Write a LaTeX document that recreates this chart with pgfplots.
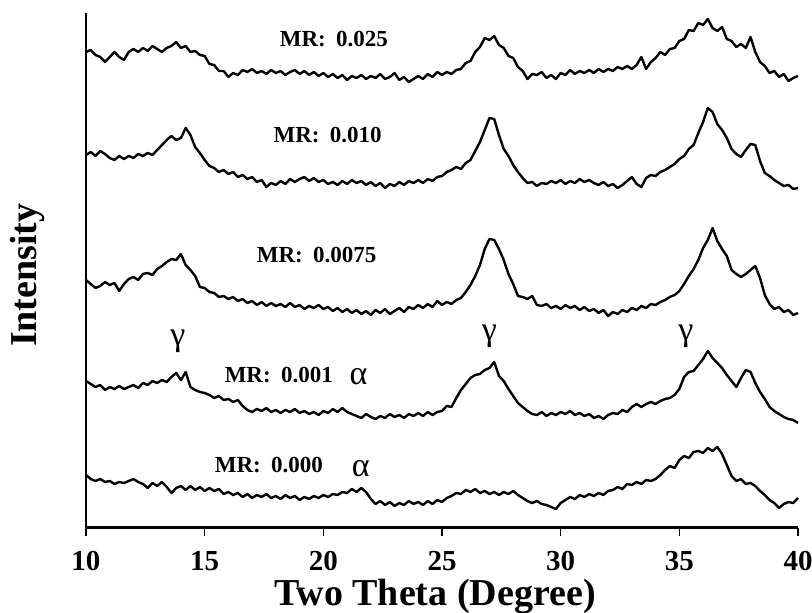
\documentclass[border=0pt]{standalone}
\usepackage{fontspec}
\setmainfont{Liberation Serif}
\usepackage{pgfplots}
\usepackage{pgfplotstable}
\pgfplotsset{compat=1.18}

% XRD patterns, stacked; columns: 2theta, MR 0.025, 0.010, 0.0075, 0.001, 0.000
\pgfplotstableread{
x a b c d e
10.0 476 373 248 147 53
10.2 478 376 244 144 49
10.4 473 372 240 141 47
10.6 471 377 242 143 49
10.8 466 374 246 138 46
11.0 471 370 243 141 47
11.2 476 368 245 139 44
11.4 471 372 237 142 46
11.6 468 369 244 139 45
11.8 476 372 249 141 47
12.0 479 370 251 143 49
12.2 476 374 248 140 46
12.4 480 372 254 145 44
12.6 477 375 255 143 40
12.8 482 373 253 147 45
13.0 479 378 259 145 42
13.2 476 383 262 148 46
13.4 480 388 266 146 41
13.6 482 392 269 151 35
13.8 486 388 268 155 40
14.0 480 390 274 148 42
14.2 482 400 263 156 38
14.4 476 393 258 141 42
14.6 477 381 252 138 38
14.8 473 375 241 136 41
15.0 472 368 240 135 37
15.2 464 362 236 133 40
15.4 463 360 235 130 37
15.6 457 356 231 132 39
15.8 457 358 232 128 34
16.0 451 354 229 129 36
16.2 455 356 231 126 33
16.4 453 351 227 128 35
16.6 458 353 229 122 31
16.8 456 349 225 118 34
17.0 459 351 227 116 30
17.2 455 346 223 119 33
17.4 457 348 226 117 31
17.6 454 341 222 120 34
17.8 458 345 225 116 30
18.0 455 343 222 118 32
18.2 457 347 224 115 29
18.4 453 344 221 118 33
18.6 456 349 225 116 30
18.8 458 346 221 119 32
19.0 454 349 223 115 28
19.2 457 351 219 117 31
19.4 453 347 222 114 29
19.6 456 350 220 116 32
19.8 452 346 223 113 30
20.0 455 348 219 117 33
20.2 451 344 221 115 31
20.4 454 346 217 119 34
20.6 450 343 220 116 33
20.8 453 347 216 120 36
21.0 448 344 219 116 35
21.2 452 348 215 114 39
21.4 450 345 218 112 36
21.6 453 347 214 110 40
21.8 449 343 217 114 36
22.0 452 346 213 111 29
22.2 450 342 218 109 24
22.4 454 345 215 112 27
22.6 449 340 219 110 23
22.8 451 344 214 114 26
23.0 455 342 217 111 22
23.2 448 346 220 113 25
23.4 451 343 216 110 23
23.6 446 347 221 114 27
23.8 449 345 219 112 24
24.0 452 348 223 115 26
24.2 449 345 220 112 23
24.4 454 349 224 116 27
24.6 451 347 221 113 24
24.8 456 351 227 116 28
25.0 453 352 223 117 26
25.2 456 356 226 122 30
25.4 454 358 224 121 32
25.6 458 361 228 130 35
25.8 459 359 230 138 34
26.0 465 365 236 144 38
26.2 467 368 243 150 36
26.4 476 377 252 153 39
26.6 481 386 263 154 35
26.8 490 398 279 158 37
27.0 488 410 289 160 34
27.2 492 409 288 166 36
27.4 483 393 279 152 33
27.6 480 379 268 147 36
27.8 472 372 254 139 34
28.0 470 363 244 132 37
28.2 461 356 232 125 33
28.4 457 350 231 121 30
28.6 449 345 229 117 27
28.8 454 346 232 114 25
29.0 453 342 223 113 27
29.2 456 345 222 116 24
29.4 450 344 224 112 23
29.6 453 347 220 115 21
29.8 449 345 222 113 19
30.0 455 348 219 116 25
30.2 453 344 223 114 28
30.4 458 347 220 117 31
30.6 454 345 222 113 29
30.8 457 349 218 115 33
31.0 455 346 221 112 31
31.2 458 348 217 114 34
31.4 455 345 219 110 32
31.6 459 343 215 112 35
31.8 456 346 218 109 33
32.0 459 342 212 113 37
32.2 457 344 216 115 38
32.4 461 340 214 114 41
32.6 459 343 218 118 39
32.8 462 347 216 116 44
33.0 459 351 220 121 43
33.2 463 344 218 124 46
33.4 471 341 222 121 44
33.6 459 350 220 124 48
33.8 466 353 224 126 47
34.0 470 352 223 124 49
34.2 476 356 226 127 53
34.4 473 358 228 129 58
34.6 479 361 231 130 62
34.8 480 364 233 133 60
35.0 487 369 237 139 68
35.2 489 372 244 151 72
35.4 498 379 252 156 70
35.6 497 383 259 157 76
35.8 505 395 268 163 77
36.0 503 406 280 169 75
36.2 509 420 288 177 80
36.4 500 416 300 170 77
36.6 497 404 287 165 81
36.8 501 398 279 160 74
37.0 489 390 272 153 63
37.2 487 379 258 147 52
37.4 481 374 254 141 47
37.6 484 371 251 150 49
37.8 480 378 254 158 44
38.0 491 384 258 156 45
38.2 476 383 262 145 42
38.4 466 367 250 136 37
38.6 462 355 233 129 33
38.8 455 352 224 121 28
39.0 457 348 219 117 25
39.2 451 345 221 114 20
39.4 454 342 216 111 24
39.6 447 343 218 109 26
39.8 450 339 213 108 25
40.0 452 340 215 105 30
}\xrd

\newcommand\mrfont{\fontsize{11.5}{12}\selectfont\bfseries}
\newcommand\grfont{\fontsize{17}{17}\selectfont}

\begin{document}
\begin{tikzpicture}
\useasboundingbox (-43pt,-42.5pt) rectangle (363pt,264pt);
\begin{axis}[
  scale only axis, width=356pt, height=257.5pt,
  xmin=10, xmax=40, ymin=0, ymax=515,
  axis x line*=bottom, axis y line*=left,
  axis line style={-},
  x axis line style={line width=1.5pt},
  y axis line style={line width=1pt},
  xtick={10,15,...,40}, ytick=\empty,
  tick align=outside, major tick length=4pt,
  every tick/.style={black, line width=0.8pt},
  /pgf/number format/assume math mode=true,
  xticklabel style={font=\fontsize{14.5}{15}\selectfont\bfseries, anchor=base,
    inner sep=0pt, yshift=-17.5pt},
  xlabel={Two Theta (Degree)},
  ylabel={Intensity},
  xlabel style={at={([yshift=-39pt]axis description cs:0.49,0)}, anchor=base,
    inner sep=0pt, font=\fontsize{19}{20}\selectfont\bfseries},
  ylabel style={at={([xshift=-24.5pt]axis description cs:0,0.491)}, anchor=base,
    inner sep=0pt, font=\fontsize{19}{20}\selectfont\bfseries},
  clip=false,
  trace/.style={black, line width=1.2pt, line join=round, mark=none},
]
\addplot[trace] table[x=x, y=a] {\xrd};
\addplot[trace] table[x=x, y=b] {\xrd};
\addplot[trace] table[x=x, y=c] {\xrd};
\addplot[trace] table[x=x, y=d] {\xrd};
\addplot[trace] table[x=x, y=e] {\xrd};

\node[anchor=base west, font=\mrfont] at (axis cs:17.87,481) {MR:\hspace{0.45em}0.025};
\node[anchor=base west, font=\mrfont] at (axis cs:17.61,385) {MR:\hspace{0.45em}0.010};
\node[anchor=base west, font=\mrfont] at (axis cs:16.90,265) {MR:\hspace{0.45em}0.0075};
\node[anchor=base west, font=\mrfont] at (axis cs:15.55,145) {MR:\hspace{0.45em}0.001};
\node[anchor=base west, font=\mrfont] at (axis cs:15.13,55) {MR:\hspace{0.45em}0.000};

\node[anchor=base west, font=\grfont] at (axis cs:20.81,143) {α};
\node[anchor=base west, font=\grfont] at (axis cs:20.90,51) {α};
\node[anchor=base, font=\grfont] at (axis cs:13.87,182) {γ};
\node[anchor=base, font=\grfont] at (axis cs:27.00,187) {γ};
\node[anchor=base, font=\grfont] at (axis cs:35.28,187) {γ};
\end{axis}
\end{tikzpicture}
\end{document}
